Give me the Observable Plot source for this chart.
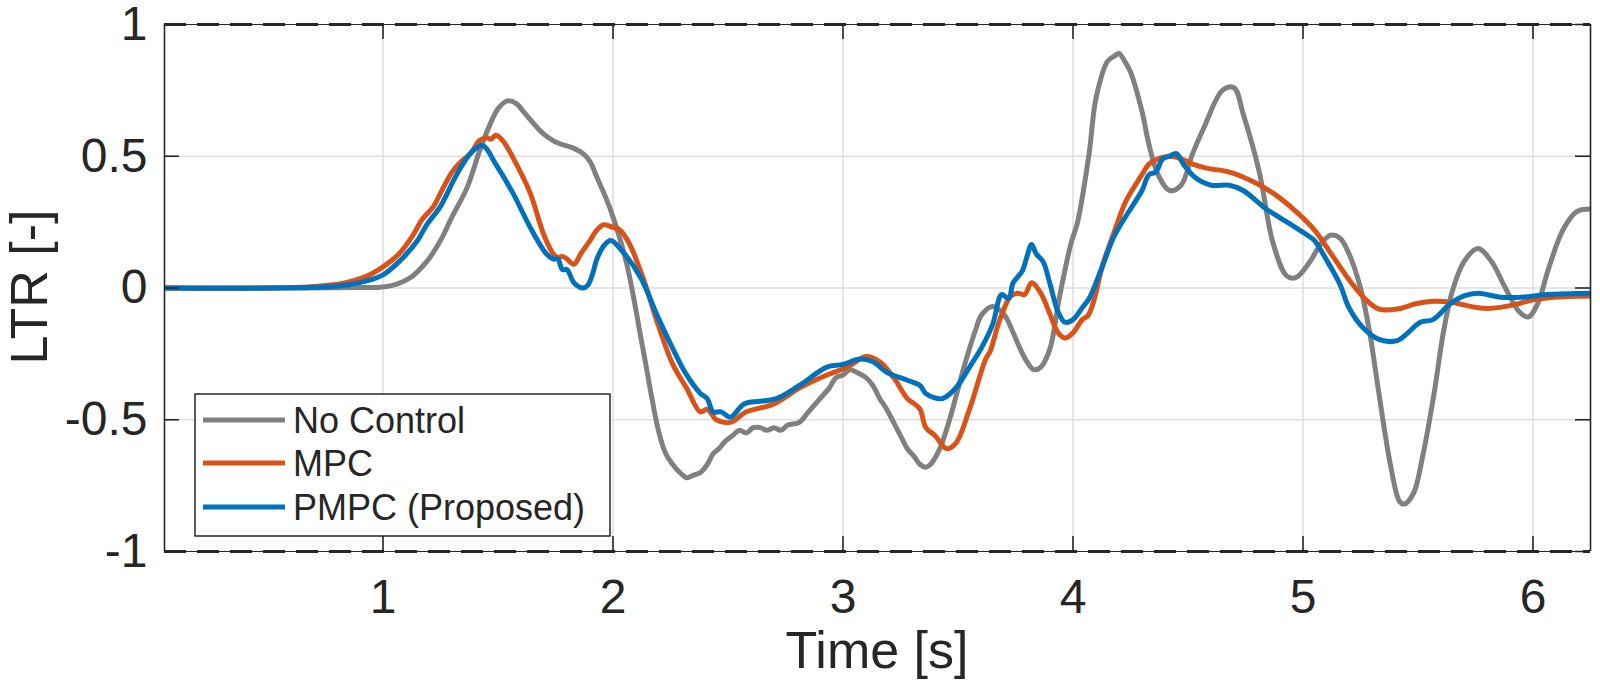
<!DOCTYPE html>
<html>
<head>
<meta charset="utf-8">
<script src="https://cdn.jsdelivr.net/npm/d3@7"></script>
<script src="https://cdn.jsdelivr.net/npm/@observablehq/plot@0.6"></script>
<style>
  html, body { margin: 0; padding: 0; background: #fff; }
  #chart { width: 1600px; height: 687px; }
</style>
</head>
<body>
<div id="chart"></div>
<script>
// ---------- data ----------
const seriesNames = ["No Control", "MPC", "PMPC (Proposed)"];
const seriesColors = ["#808080", "#D95319", "#0072BD"];

const xTicks = [1, 2, 3, 4, 5, 6];
const yTicks = [-1, -0.5, 0, 0.5, 1];
const xDomain = [0.05, 6.25];
const yDomain = [-1, 1];

const noControlTime = [0.05, 0.6, 0.8, 0.9, 1.0, 1.06, 1.12, 1.19, 1.25, 1.30, 1.365, 1.42, 1.465, 1.50, 1.54, 1.58, 1.61, 1.68, 1.72, 1.76, 1.83, 1.87, 1.90, 1.93, 1.97, 2.0, 2.06, 2.13, 2.20, 2.23, 2.26, 2.29, 2.32, 2.35, 2.38, 2.41, 2.435, 2.46, 2.49, 2.52, 2.55, 2.58, 2.61, 2.64, 2.67, 2.70, 2.73, 2.76, 2.81, 2.85, 2.90, 2.94, 2.97, 3.00, 3.03, 3.06, 3.10, 3.13, 3.16, 3.19, 3.22, 3.25, 3.28, 3.31, 3.335, 3.36, 3.38, 3.41, 3.43, 3.47, 3.51, 3.55, 3.58, 3.60, 3.65, 3.70, 3.74, 3.77, 3.80, 3.83, 3.86, 3.90, 3.94, 3.99, 4.02, 4.07, 4.10, 4.15, 4.18, 4.20, 4.225, 4.25, 4.30, 4.33, 4.37, 4.42, 4.47, 4.52, 4.57, 4.65, 4.70, 4.74, 4.81, 4.87, 4.93, 4.97, 5.03, 5.08, 5.12, 5.16, 5.20, 5.25, 5.29, 5.33, 5.38, 5.42, 5.44, 5.48, 5.52, 5.57, 5.61, 5.65, 5.70, 5.76, 5.82, 5.88, 5.94, 5.98, 6.02, 6.07, 6.13, 6.19, 6.25];
const noControlLTR = [0, 0, 0.001, 0.002, 0.004, 0.015, 0.04, 0.10, 0.18, 0.27, 0.38, 0.52, 0.62, 0.68, 0.71, 0.70, 0.67, 0.60, 0.57, 0.55, 0.53, 0.51, 0.48, 0.42, 0.34, 0.27, 0.09, -0.23, -0.55, -0.63, -0.67, -0.70, -0.72, -0.71, -0.70, -0.67, -0.63, -0.61, -0.58, -0.56, -0.54, -0.55, -0.53, -0.53, -0.54, -0.53, -0.54, -0.52, -0.51, -0.47, -0.42, -0.38, -0.34, -0.33, -0.31, -0.32, -0.34, -0.37, -0.42, -0.46, -0.51, -0.56, -0.61, -0.64, -0.67, -0.68, -0.67, -0.63, -0.59, -0.48, -0.35, -0.23, -0.15, -0.105, -0.07, -0.10, -0.17, -0.23, -0.28, -0.31, -0.30, -0.23, -0.04, 0.165, 0.25, 0.51, 0.72, 0.86, 0.88, 0.89, 0.86, 0.82, 0.67, 0.545, 0.43, 0.37, 0.39, 0.51, 0.61, 0.75, 0.76, 0.66, 0.44, 0.17, 0.045, 0.04, 0.10, 0.17, 0.20, 0.19, 0.13, 0.0, -0.17, -0.40, -0.67, -0.81, -0.82, -0.78, -0.64, -0.40, -0.17, -0.01, 0.10, 0.15, 0.10, 0.0, -0.09, -0.11, -0.06, 0.08, 0.22, 0.29, 0.30];

const mpcTime = [0.05, 0.5, 0.64, 0.81, 0.93, 1.0, 1.07, 1.13, 1.17, 1.22, 1.25, 1.30, 1.34, 1.38, 1.42, 1.45, 1.47, 1.49, 1.52, 1.58, 1.64, 1.70, 1.74, 1.76, 1.78, 1.80, 1.83, 1.86, 1.90, 1.93, 1.96, 2.0, 2.03, 2.07, 2.13, 2.20, 2.26, 2.32, 2.38, 2.41, 2.45, 2.51, 2.58, 2.70, 2.81, 2.93, 3.02, 3.10, 3.16, 3.22, 3.28, 3.31, 3.335, 3.36, 3.40, 3.45, 3.49, 3.55, 3.62, 3.64, 3.68, 3.73, 3.76, 3.79, 3.82, 3.86, 3.90, 3.935, 3.965, 4.0, 4.04, 4.065, 4.09, 4.13, 4.18, 4.23, 4.30, 4.33, 4.37, 4.42, 4.47, 4.52, 4.58, 4.68, 4.78, 4.87, 4.97, 5.05, 5.13, 5.21, 5.28, 5.33, 5.41, 5.49, 5.57, 5.65, 5.76, 5.82, 5.91, 6.0, 6.09, 6.25];
const mpcLTR = [0, 0, 0.003, 0.015, 0.045, 0.08, 0.13, 0.20, 0.26, 0.31, 0.36, 0.44, 0.48, 0.51, 0.56, 0.57, 0.565, 0.58, 0.56, 0.47, 0.36, 0.20, 0.13, 0.115, 0.12, 0.11, 0.09, 0.13, 0.18, 0.22, 0.24, 0.23, 0.22, 0.17, 0.04, -0.15, -0.29, -0.38, -0.47, -0.46, -0.50, -0.51, -0.47, -0.44, -0.38, -0.33, -0.30, -0.26, -0.28, -0.34, -0.42, -0.44, -0.46, -0.53, -0.56, -0.61, -0.59, -0.46, -0.27, -0.24, -0.125, -0.03, -0.02, -0.025, 0.02, -0.02, -0.10, -0.17, -0.19, -0.17, -0.12, -0.105, -0.05, 0.09, 0.215, 0.33, 0.43, 0.47, 0.49, 0.50, 0.49, 0.47, 0.455, 0.44, 0.405, 0.36, 0.29, 0.22, 0.12, 0.02, -0.05, -0.08, -0.08, -0.06, -0.05, -0.055, -0.075, -0.077, -0.065, -0.045, -0.035, -0.03];

const pmpcTime = [0.05, 0.5, 0.81, 0.93, 1.0, 1.07, 1.15, 1.19, 1.25, 1.32, 1.39, 1.435, 1.49, 1.565, 1.64, 1.71, 1.74, 1.76, 1.78, 1.80, 1.83, 1.87, 1.89, 1.91, 1.93, 1.96, 1.99, 2.04, 2.12, 2.19, 2.26, 2.32, 2.38, 2.41, 2.435, 2.47, 2.51, 2.57, 2.64, 2.71, 2.81, 2.93, 3.00, 3.07, 3.13, 3.19, 3.28, 3.335, 3.36, 3.43, 3.49, 3.55, 3.60, 3.65, 3.69, 3.72, 3.74, 3.78, 3.80, 3.82, 3.84, 3.87, 3.90, 3.935, 3.965, 4.0, 4.04, 4.07, 4.12, 4.175, 4.20, 4.25, 4.30, 4.33, 4.36, 4.39, 4.42, 4.45, 4.48, 4.53, 4.60, 4.68, 4.74, 4.84, 4.94, 5.02, 5.05, 5.10, 5.16, 5.20, 5.26, 5.33, 5.41, 5.45, 5.51, 5.565, 5.64, 5.70, 5.76, 5.86, 5.95, 6.06, 6.25];
const pmpcLTR = [0, 0, 0.008, 0.027, 0.05, 0.10, 0.18, 0.24, 0.31, 0.43, 0.52, 0.54, 0.47, 0.36, 0.23, 0.13, 0.11, 0.11, 0.07, 0.07, 0.02, 0.0, 0.01, 0.05, 0.11, 0.16, 0.18, 0.14, 0.04, -0.10, -0.23, -0.33, -0.40, -0.42, -0.47, -0.47, -0.49, -0.44, -0.43, -0.42, -0.37, -0.30, -0.29, -0.27, -0.28, -0.32, -0.35, -0.37, -0.40, -0.42, -0.38, -0.30, -0.23, -0.14, -0.025, -0.04, 0.02, 0.065, 0.12, 0.165, 0.13, 0.10, 0.015, -0.09, -0.13, -0.12, -0.075, -0.04, 0.065, 0.19, 0.23, 0.30, 0.37, 0.43, 0.44, 0.49, 0.50, 0.51, 0.47, 0.42, 0.39, 0.39, 0.37, 0.30, 0.245, 0.20, 0.18, 0.11, 0.015, -0.075, -0.15, -0.195, -0.20, -0.175, -0.13, -0.12, -0.06, -0.03, -0.02, -0.035, -0.035, -0.025, -0.02];

// ---------- build table ----------
const allTimes = [noControlTime, mpcTime, pmpcTime];
const allValues = [noControlLTR, mpcLTR, pmpcLTR];
const table = [];
seriesNames.forEach((name, i) => {
  allTimes[i].forEach((t, j) => table.push({series: name, t, v: allValues[i][j]}));
});

const font = "'Liberation Sans', Arial, Helvetica, sans-serif";
const ink = "#262626";
const tickLenY = 15 / 264;  // inward tick length expressed in y units
const tickLenX = 15 / 230;  // inward tick length expressed in x units

const lineMarks = seriesNames.map((name, i) =>
  Plot.line(table.filter(d => d.series === name), {
    x: "t", y: "v", stroke: seriesColors[i], strokeWidth: 5,
    curve: "catmull-rom", strokeLinejoin: "round", strokeLinecap: "round", clip: true
  })
);

const chart = Plot.plot({
  width: 1600,
  height: 687,
  marginLeft: 164,
  marginRight: 10,
  marginTop: 24,
  marginBottom: 136,
  style: {fontFamily: font, color: ink, background: "#fff", overflow: "visible"},
  x: {domain: xDomain},
  y: {domain: yDomain},
  marks: [
    Plot.gridX(xTicks, {stroke: "#dedede", strokeOpacity: 1, strokeWidth: 1.5}),
    Plot.gridY(yTicks.filter(v => v > yDomain[0] && v < yDomain[1]), {stroke: "#dedede", strokeOpacity: 1, strokeWidth: 1.5}),
    ...lineMarks,
    // box: solid sides, dashed-look top and bottom like the reference
    Plot.ruleX(xDomain, {stroke: ink, strokeWidth: 1.6}),
    Plot.ruleY(yDomain, {stroke: ink, strokeWidth: 1.2}),
    Plot.ruleY(yDomain, {stroke: ink, strokeWidth: 3.2, strokeDasharray: "22,11"}),
    // inward ticks
    Plot.ruleX(xTicks, {x: d => d, y1: yDomain[0], y2: yDomain[0] + tickLenY, stroke: ink, strokeWidth: 1.6}),
    Plot.ruleX(xTicks, {x: d => d, y1: yDomain[1], y2: yDomain[1] - tickLenY, stroke: ink, strokeWidth: 1.6}),
    Plot.ruleY(yTicks, {y: d => d, x1: xDomain[0], x2: xDomain[0] + tickLenX, stroke: ink, strokeWidth: 1.6}),
    Plot.ruleY(yTicks, {y: d => d, x1: xDomain[1], x2: xDomain[1] - tickLenX, stroke: ink, strokeWidth: 1.6}),
    Plot.axisX(xTicks, {anchor: "bottom", tickSize: 0, tickPadding: 27, fontSize: 48, fill: ink, label: null, tickFormat: d => String(d)}),
    Plot.axisY(yTicks, {anchor: "left", tickSize: 0, tickPadding: 17, fontSize: 48, fill: ink, label: null, tickFormat: d => String(d)})
  ]
});

document.getElementById("chart").appendChild(chart);

// ---------- axis titles and legend ----------
const svg = d3.select(chart);

svg.append("text")
  .attr("x", 877).attr("y", 668)
  .attr("text-anchor", "middle")
  .attr("font-family", font).attr("font-size", 52).attr("fill", ink)
  .text("Time [s]");

svg.append("text")
  .attr("transform", "translate(47,287) rotate(-90)")
  .attr("text-anchor", "middle")
  .attr("font-family", font).attr("font-size", 52).attr("fill", ink)
  .text("LTR [-]");

const legend = svg.append("g").attr("text-anchor", "start");
legend.append("rect")
  .attr("x", 195).attr("y", 394).attr("width", 415).attr("height", 142)
  .attr("fill", "#fff").attr("stroke", ink).attr("stroke-width", 1.5);
const rowY = [420, 463, 507];
seriesNames.forEach((name, i) => {
  legend.append("line")
    .attr("x1", 203).attr("x2", 285).attr("y1", rowY[i]).attr("y2", rowY[i])
    .attr("stroke", seriesColors[i]).attr("stroke-width", 5);
  legend.append("text")
    .attr("x", 293).attr("y", rowY[i] + 13)
    .attr("text-anchor", "start")
    .attr("font-family", font).attr("font-size", 36).attr("fill", ink)
    .text(name);
});
</script>
</body>
</html>
